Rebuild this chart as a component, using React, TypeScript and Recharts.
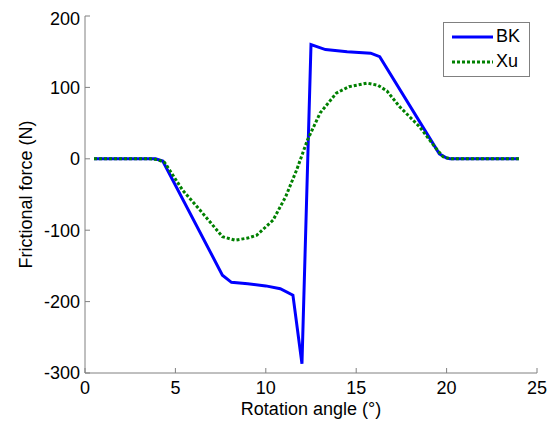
import React from "react";
import { Legend, Line, LineChart, XAxis, YAxis } from "recharts";

// rotation angle (deg) and frictional force (N)
const bkAngle = [0.5, 1, 2, 3, 3.9, 4.3, 7.6, 8.1, 9, 10, 10.8, 11.5, 12.0, 12.5, 13.3, 14.5, 15.8, 16.3, 19.6, 20.0, 20.2, 21, 22, 23, 24];
const bkForce = [0, 0, 0, 0, 0, -3, -163, -173, -175, -178, -182, -191, -287, 160, 153, 150, 148, 143, 7, 1, 0, 0, 0, 0, 0];

const xuAngle = [0.5, 1, 2, 3, 3.6, 4.0, 4.4, 5.4, 6.5, 7.6, 8.3, 9.0, 9.5, 10.4, 11.1, 11.7, 12.3, 13.0, 13.9, 14.6, 15.6, 16.2, 16.7, 17.4, 18.5, 19.4, 19.8, 20.2, 21, 22, 23, 24];
const xuForce = [0, 0, 0, 0, 0, -1, -5, -44, -76, -109, -114, -111, -107, -86, -53, -16, 26, 64, 92, 101, 106, 103, 95, 73, 45, 15, 3, 0, 0, 0, 0, 0];

const xTicks = [0, 5, 10, 15, 20, 25];
const yTicks = [-300, -200, -100, 0, 100, 200];

const bkData = bkAngle.map((x, i) => ({ x, y: bkForce[i] }));
const xuData = xuAngle.map((x, i) => ({ x, y: xuForce[i] }));

const FONT = "'Liberation Sans', Arial, sans-serif";
const AXIS = "#808080";
const tickStyle = { fontSize: 18, fill: "#000", fontFamily: FONT };
const blank = () => "";

const renderLegend = (props: any) => {
  const { payload } = props;
  return (
    <div
      style={{
        border: `1px solid ${AXIS}`,
        background: "#fff",
        padding: "1px 9px 2px 8px",
        fontFamily: FONT,
        fontSize: 18,
        lineHeight: "25px",
      }}
    >
      {payload.map((entry: any) => (
        <div key={entry.value} style={{ display: "flex", alignItems: "center", height: 25 }}>
          <svg width={41} height={6} style={{ display: "block" }}>
            <line
              x1={0}
              y1={3}
              x2={41}
              y2={3}
              stroke={entry.color}
              strokeWidth={3}
              strokeDasharray={entry.payload?.strokeDasharray}
            />
          </svg>
          <span style={{ marginLeft: 3, color: "#000" }}>{entry.value}</span>
        </div>
      ))}
    </div>
  );
};

export default function App() {
  return (
    <LineChart width={539} height={414} margin={{ top: 8, right: 10, bottom: 0, left: 17 }}>
      <XAxis
        dataKey="x"
        type="number"
        domain={[0, 25]}
        ticks={xTicks}
        stroke={AXIS}
        tickSize={-5}
        tickMargin={13.5}
        tick={tickStyle}
        height={49}
        label={{ value: "Rotation angle (°)", position: "insideBottom", offset: 7, style: { fontSize: 18, fill: "#000", fontFamily: FONT } }}
      />
      <XAxis
        xAxisId="top"
        orientation="top"
        type="number"
        domain={[0, 25]}
        ticks={xTicks}
        stroke={AXIS}
        tickSize={-5}
        tickFormatter={blank}
        height={0}
      />
      <YAxis
        type="number"
        domain={[-300, 200]}
        ticks={yTicks}
        stroke={AXIS}
        tickSize={-5}
        tickMargin={10}
        tick={tickStyle}
        width={60}
        label={{
          value: "Frictional force (N)",
          angle: -90,
          position: "insideLeft",
          offset: 1,
          style: { fontSize: 18, fill: "#000", fontFamily: FONT, textAnchor: "middle" },
        }}
      />
      <YAxis
        yAxisId="right"
        orientation="right"
        type="number"
        domain={[-300, 200]}
        ticks={yTicks}
        stroke={AXIS}
        tickSize={-5}
        tickFormatter={blank}
        width={0}
      />
      <Legend
        layout="vertical"
        align="center"
        verticalAlign="middle"
        content={renderLegend}
        wrapperStyle={{ left: 435, top: 14, width: "auto" }}
      />
      <Line
        data={bkData}
        dataKey="y"
        name="BK"
        type="linear"
        stroke="#0000ff"
        strokeWidth={3}
        dot={false}
        isAnimationActive={false}
      />
      <Line
        data={xuData}
        dataKey="y"
        name="Xu"
        type="linear"
        stroke="#008000"
        strokeWidth={3}
        strokeDasharray="3 2"
        dot={false}
        isAnimationActive={false}
      />
    </LineChart>
  );
}
